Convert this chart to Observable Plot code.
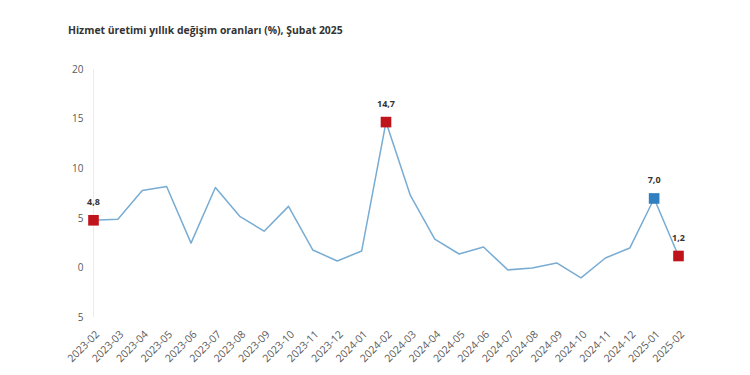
<!DOCTYPE html>
<html>
<head>
<meta charset="utf-8">
<script src="https://cdn.jsdelivr.net/npm/d3@7"></script>
<script src="https://cdn.jsdelivr.net/npm/@observablehq/plot@0.6"></script>
<style>
  html, body { margin: 0; padding: 0; background: #fff; }
  #wrap { position: relative; width: 750px; height: 375px; }
  #title { position: absolute; left: 68px; top: 23px; font-family: "Open Sans", sans-serif; font-weight: 700; font-size: 10.4px; color: #333; white-space: nowrap; }
  svg { display: block; }
  .xax text { font-size: 10.5px; }
</style>
</head>
<body>
<div id="wrap">
  <div id="chart"></div>
  <div id="title">Hizmet üretimi yıllık değişim oranları (%), Şubat 2025</div>
</div>
<script>
const months = ["2023-02","2023-03","2023-04","2023-05","2023-06","2023-07","2023-08","2023-09","2023-10","2023-11","2023-12","2024-01","2024-02","2024-03","2024-04","2024-05","2024-06","2024-07","2024-08","2024-09","2024-10","2024-11","2024-12","2025-01","2025-02"];
const values = [4.8, 4.9, 7.8, 8.2, 2.5, 8.1, 5.2, 3.7, 6.2, 1.8, 0.7, 1.7, 14.7, 7.3, 2.9, 1.4, 2.1, -0.2, 0.0, 0.5, -1.0, 1.0, 2.0, 7.0, 1.2];
const highlightMonths = ["2023-02", "2024-02", "2025-01", "2025-02"];
const highlightColors = ["#c0141c", "#c0141c", "#2f7fc1", "#c0141c"];
const yTicks = [-5, 0, 5, 10, 15, 20];

const data = months.map((m, i) => ({month: m, value: values[i]}));
const hl = highlightMonths.map((m, i) => ({month: m, value: values[months.indexOf(m)], color: highlightColors[i], label: values[months.indexOf(m)].toFixed(1).replace(".", ",")}));

const chart = Plot.plot({
  width: 750,
  height: 375,
  marginLeft: 93,
  marginRight: 72,
  marginTop: 69,
  marginBottom: 58,
  style: {fontFamily: "'Open Sans', sans-serif", fontSize: "10px", color: "#595959", background: "#fff"},
  x: {type: "point", domain: months, padding: 0, round: false, label: null},
  y: {domain: [-5, 20], label: null},
  marks: [
    Plot.ruleY([-5, 0], {x1: months[0], x2: months[months.length - 1], stroke: "#e3e3e3", strokeWidth: 1.2}),
    Plot.ruleX([months[0]], {y1: -5, y2: 20, stroke: "#ececec", strokeWidth: 1}),
    Plot.axisY({ticks: yTicks, tickSize: 0, tickPadding: 10, tickFormat: d => Math.abs(d), fill: "#595959", fontSize: 10}),
    Plot.axisX({tickSize: 0, tickPadding: 12, tickRotate: -45, dx: 4, dy: 3, fill: "#595959", fontSize: 10.5, className: "xax"}),
    Plot.line(data, {x: "month", y: "value", stroke: "#78acd3", strokeWidth: 1.5}),
    Plot.dot(hl, {x: "month", y: "value", symbol: "square", r: 6, fill: "color", stroke: "none"}),
    Plot.text(hl, {x: "month", y: "value", text: "label", dy: -18, fontWeight: "bold", fontSize: 9, fill: "#333"})
  ]
});
document.getElementById("chart").appendChild(chart);
</script>
</body>
</html>
